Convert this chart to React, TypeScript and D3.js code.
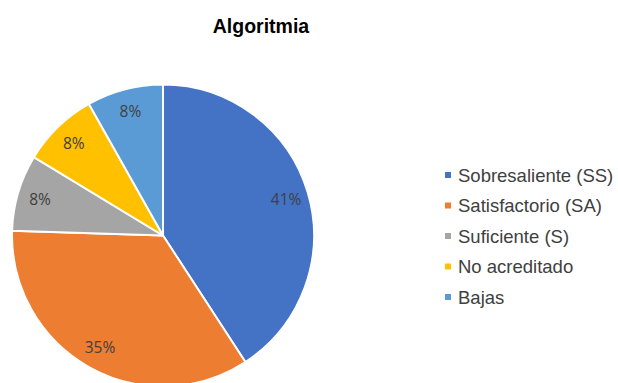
import React from "react";
import * as d3 from "d3";

const categories = ["Sobresaliente (SS)", "Satisfactorio (SA)", "Suficiente (S)", "No acreditado", "Bajas"];
const counts = [20, 17, 4, 4, 4];
const colors = ["#4472C4", "#ED7D31", "#A5A5A5", "#FFC000", "#5B9BD5"];
const title = "Algoritmia";

export default function App() {
  const W = 618, H = 383;
  const cx = 163, cy = 235.5, r = 151;
  const data = categories.map((c, i) => ({ c, v: counts[i], color: colors[i] }));
  const total = d3.sum(counts);
  const pie = d3.pie<any>().value((d: any) => d.v).sort(null);
  const arcs = pie(data);
  const arc = d3.arc<any>().innerRadius(0).outerRadius(r);
  const labelArc = d3.arc<any>().innerRadius(r * 0.85).outerRadius(r * 0.85);
  const fmt = (v: number) => Math.round((v / total) * 100) + "%";
  const legendY = d3.scalePoint<number>().domain(d3.range(categories.length)).range([175, 297]);
  return (
    <svg width={W} height={H} style={{ position: "absolute", left: 0, top: 0, background: "#fff" }}>
      <rect width={W} height={H} fill="#fff" />
      <text x={261} y={33} textAnchor="middle" fontFamily="Liberation Sans, Arial, sans-serif" fontWeight="bold" fontSize={19.5} fill="#000">{title}</text>
      <g transform={`translate(${cx},${cy})`}>
        {arcs.map((a, i) => (
          <path key={i} d={arc(a) as string} fill={a.data.color} stroke="#fff" strokeWidth={2} strokeLinejoin="round" />
        ))}
        {arcs.map((a, i) => {
          const [x, y] = labelArc.centroid(a);
          return (
            <text key={"l" + i} x={x} y={y} textAnchor="middle" dominantBaseline="central" fontFamily="Open Sans, sans-serif" fontSize={15.5} fill="#404040">{fmt(a.data.v)}</text>
          );
        })}
      </g>
      {categories.map((c, i) => (
        <g key={"lg" + i} transform={`translate(0,${legendY(i)})`}>
          <rect x={445} y={-3} width={6} height={6} fill={colors[i]} />
          <text x={458} y={0} dominantBaseline="central" fontFamily="Liberation Sans, Arial, sans-serif" fontSize={18.5} fill="#404040">{c}</text>
        </g>
      ))}
    </svg>
  );
}
